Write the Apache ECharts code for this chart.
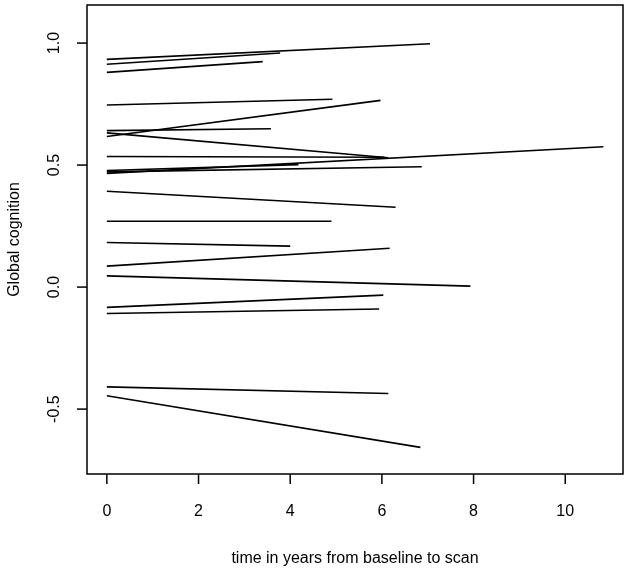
<!DOCTYPE html>
<html>
<head>
<meta charset="utf-8">
<script src="https://cdn.jsdelivr.net/npm/echarts@6/dist/echarts.min.js"></script>
<style>
html,body{margin:0;padding:0;background:#fff;}
#chart{width:630px;height:570px;}
</style>
</head>
<body>
<div id="chart"></div>
<script>
// One line per subject: cognition at baseline (time 0) and at scan time
var startTime = [0,0,0,0,0,0,0,0,0,0,0,0,0,0,0,0,0,0,0,0];
var endTime   = [7.05,3.78,3.40,4.92,5.97,3.58,6.14,6.05,10.83,6.87,4.18,6.30,4.90,4.00,6.17,7.93,6.03,5.94,6.14,6.84];
var startCog  = [0.933,0.913,0.880,0.746,0.617,0.641,0.632,0.535,0.466,0.472,0.478,0.393,0.270,0.183,0.086,0.046,-0.083,-0.108,-0.409,-0.445];
var endCog    = [0.997,0.959,0.924,0.770,0.765,0.649,0.530,0.532,0.575,0.493,0.502,0.327,0.270,0.168,0.159,0.004,-0.033,-0.090,-0.436,-0.657];
var xTicks = [0,2,4,6,8,10];
var yTicks = [-0.5,0,0.5,1.0];
var xRange = [-0.433, 11.26];
var yRange = [-0.766, 1.156];

var series = [];
for (var i = 0; i < startCog.length; i++) {
  series.push({
    type: 'line',
    data: [[startTime[i], startCog[i]], [endTime[i], endCog[i]]],
    symbol: 'none',
    silent: true,
    lineStyle: {color: '#000', width: 1.6},
    z: 3
  });
}

// R-style outward tick marks, positioned through the axes' own scales
var TICK_LEN = 10;
series.push({
  type: 'custom', silent: true, clip: false, z: 5,
  data: xTicks.map(function (v) { return [v, yRange[0]]; }),
  renderItem: function (params, api) {
    var p = api.coord([api.value(0), api.value(1)]);
    return {type: 'line', shape: {x1: p[0], y1: p[1], x2: p[0], y2: p[1] + TICK_LEN},
            style: {stroke: '#000', lineWidth: 1.5}};
  }
});
series.push({
  type: 'custom', silent: true, clip: false, z: 5,
  data: yTicks.map(function (v) { return [xRange[0], v]; }),
  renderItem: function (params, api) {
    var p = api.coord([api.value(0), api.value(1)]);
    return {type: 'line', shape: {x1: p[0], y1: p[1], x2: p[0] - TICK_LEN, y2: p[1]},
            style: {stroke: '#000', lineWidth: 1.5}};
  }
});

var font = 'Liberation Sans, Arial, Helvetica, sans-serif';
var chart = echarts.init(document.getElementById('chart'), null, {renderer: 'canvas'});
chart.setOption({
  animation: false,
  backgroundColor: '#fff',
  grid: {left: 87, right: 7, top: 5, bottom: 96, containLabel: false, outerBoundsMode: 'none',
         show: true, borderColor: '#000', borderWidth: 1.5, backgroundColor: 'transparent'},
  xAxis: {
    type: 'value', min: xRange[0], max: xRange[1],
    name: 'time in years from baseline to scan', nameLocation: 'middle', nameGap: 77,
    nameTextStyle: {color: '#000', fontSize: 16, fontFamily: font},
    axisLine: {show: false, onZero: false},
    splitLine: {show: false},
    axisTick: {show: false},
    axisLabel: {customValues: xTicks, color: '#000', fontSize: 16, fontFamily: font, margin: 30, formatter: function(v){return String(v);}}
  },
  yAxis: {
    type: 'value', min: yRange[0], max: yRange[1],
    name: 'Global cognition', nameLocation: 'middle', nameGap: 64, nameRotate: 90,
    nameTextStyle: {color: '#000', fontSize: 16, fontFamily: font},
    axisLine: {show: false, onZero: false},
    splitLine: {show: false},
    axisTick: {show: false},
    axisLabel: {customValues: yTicks, rotate: 90, color: '#000', fontSize: 16, fontFamily: font, margin: 24, formatter: function(v){return v.toFixed(1);}}
  },
  series: series
});
</script>
</body>
</html>
